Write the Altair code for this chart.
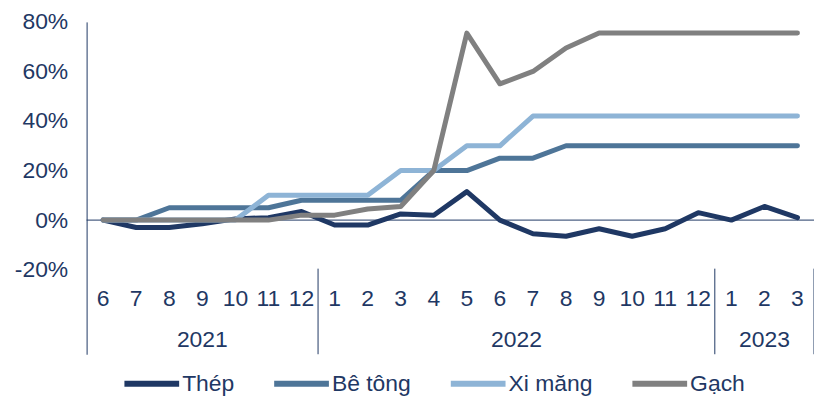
import altair as alt
import pandas as pd

# ---- data ----
months = [6, 7, 8, 9, 10, 11, 12, 1, 2, 3, 4, 5, 6, 7, 8, 9, 10, 11, 12, 1, 2, 3]
years = ["2021", "2022", "2023"]
year_counts = [7, 12, 3]
series = ["Thép", "Bê tông", "Xi măng", "Gạch"]
colors = ["#1F3864", "#4E7598", "#8EB4D6", "#808080"]

thep = [0, -3, -3, -1.5, 0.5, 1, 3.5, -2, -2, 2.5, 2, 11.5, 0, -5.5, -6.5, -3.5, -6.5, -3.5, 3, 0, 5.5, 1]
betong = [0, 0, 5, 5, 5, 5, 8, 8, 8, 8, 20, 20, 25, 25, 30, 30, 30, 30, 30, 30, 30, 30]
ximang = [0, 0, 0, 0, 0, 10, 10, 10, 10, 20, 20, 30, 30, 42, 42, 42, 42, 42, 42, 42, 42, 42]
gach = [0, 0, 0, 0, 0, 0, 2, 2, 4.5, 5.5, 20, 75.5, 55, 60, 69.5, 75.5, 75.5, 75.5, 75.5, 75.5, 75.5, 75.5]
y_ticks = [-20, 0, 20, 40, 60, 80]

values = {"Thép": thep, "Bê tông": betong, "Xi măng": ximang, "Gạch": gach}
idx = list(range(len(months)))
rows = []
for s in series:
    for i, v in zip(idx, values[s]):
        rows.append({"i": i, "v": v, "series": s})
df = pd.DataFrame(rows)

month_df = pd.DataFrame({"i": idx, "m": [str(m) for m in months]})
starts, bounds = [], []
c = 0
for n in year_counts:
    starts.append(c + (n - 1) / 2)
    c += n
    bounds.append(c - 0.5)
year_df = pd.DataFrame({"i": starts, "y": years})
sep_df = pd.DataFrame({"s": bounds})
zero_df = pd.DataFrame({"v": [0], "a": [-0.5], "b": [len(months) - 0.5]})

NAVY = "#1F3864"
FONT = "Liberation Sans"
FS = 23

xs = alt.Scale(domain=[-0.5, len(months) - 0.5], nice=False, zero=False)
ys = alt.Scale(domain=[-54.14, 80], nice=False, zero=False)

yaxis = alt.Axis(values=y_ticks, labelExpr="datum.value + '%'", title=None, grid=False,
                 ticks=False, tickSize=0, labelPadding=19, domainColor=NAVY, domainWidth=1,
                 labelFont=FONT, labelFontSize=FS, labelColor=NAVY)

color = alt.Color("series:N", sort=series,
                  scale=alt.Scale(domain=series, range=colors),
                  legend=alt.Legend(title=None, orient="none", direction="horizontal",
                                    legendX=35, legendY=333, symbolType="stroke",
                                    symbolSize=3025, symbolStrokeWidth=6, labelOffset=0,
                                    columnPadding=27.5, padding=0, labelFont=FONT,
                                    labelFontSize=FS, labelColor=NAVY))

zero = alt.Chart(zero_df).mark_rule(color=NAVY, strokeWidth=1).encode(
    y=alt.Y("v:Q", scale=ys, axis=yaxis),
    x=alt.X("a:Q", scale=xs, axis=None),
    x2="b:Q",
)

lines = [
    alt.Chart(df).transform_filter(alt.datum.series == s)
    .mark_line(strokeWidth=5, strokeCap="round", strokeJoin="round")
    .encode(x=alt.X("i:Q", scale=xs, axis=None),
            y=alt.Y("v:Q", scale=ys, axis=yaxis),
            color=color)
    for s in series
]

seps = alt.Chart(sep_df).mark_rule(color=NAVY, strokeWidth=1).encode(
    x=alt.X("s:Q", scale=xs, axis=None), y=alt.value(248), y2=alt.value(334))

mtext = alt.Chart(month_df).mark_text(font=FONT, fontSize=FS, color=NAVY, baseline="middle").encode(
    x=alt.X("i:Q", scale=xs, axis=None), y=alt.value(279), text="m:N")

ytext = alt.Chart(year_df).mark_text(font=FONT, fontSize=FS, color=NAVY, baseline="middle").encode(
    x=alt.X("i:Q", scale=xs, axis=None), y=alt.value(320), text="y:N")

chart = alt.layer(zero, *lines, seps, mtext, ytext).properties(
    width=731, height=334,
    autosize=alt.AutoSizeParams(type="none"),
    padding={"left": 79, "top": 13, "right": 0, "bottom": 42},
).configure_view(stroke=None)

chart.save("out.html", embed_options={"renderer": "svg", "actions": False})
